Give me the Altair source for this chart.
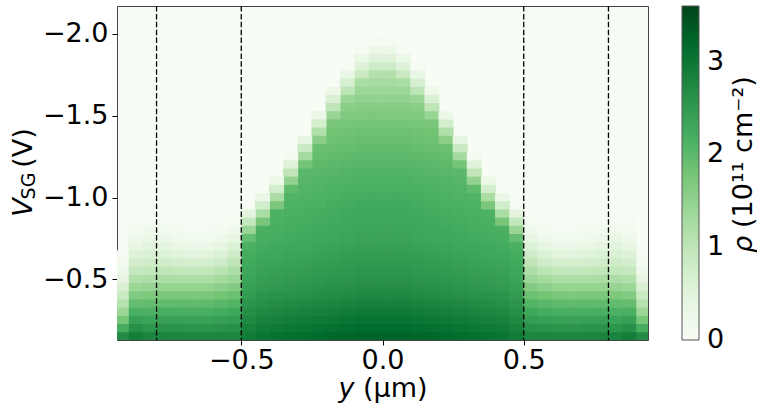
import altair as alt
import pandas as pd

# ---- data (map is mirror-symmetric in y) ----
# cell centres in y (um) for the y >= 0 half; the y < 0 half mirrors them
y_centers = [0.025, 0.075, 0.125, 0.175, 0.225, 0.275, 0.325, 0.375, 0.425, 0.475,
             0.525, 0.575, 0.625, 0.675, 0.725, 0.775, 0.825, 0.875, 0.925]
# cell centres in V_SG (V), top to bottom
v_centers = [-1.95, -1.90, -1.85, -1.80, -1.75, -1.70, -1.65, -1.60, -1.55, -1.50,
             -1.45, -1.40, -1.35, -1.30, -1.25, -1.20, -1.15, -1.10, -1.05, -1.00,
             -0.95, -0.90, -0.85, -0.80, -0.75, -0.70, -0.65, -0.60, -0.55, -0.50,
             -0.45, -0.40, -0.35, -0.30, -0.25, -0.20, -0.15]

# density rho (1e11 cm^-2) per y column, listed along v_centers
rho_y025 = [0.04, 0.27, 0.53, 0.80, 1.14, 1.30, 1.40, 1.50, 1.60, 1.70, 1.78, 1.85, 1.90,
            1.95, 2.00, 2.05, 2.10, 2.15, 2.18, 2.22, 2.25, 2.28, 2.30, 2.33, 2.36, 2.40,
            2.45, 2.50, 2.55, 2.60, 2.67, 2.75, 2.85, 2.95, 3.05, 3.15, 3.25]
rho_y075 = [0, 0.05, 0.29, 0.55, 0.87, 1.24, 1.40, 1.50, 1.60, 1.70, 1.78, 1.85, 1.90,
            1.95, 2.00, 2.05, 2.10, 2.15, 2.18, 2.22, 2.25, 2.28, 2.30, 2.33, 2.36, 2.40,
            2.45, 2.50, 2.55, 2.60, 2.67, 2.75, 2.85, 2.95, 3.05, 3.15, 3.25]
rho_y125 = [0, 0, 0, 0.05, 0.32, 0.65, 1.01, 1.41, 1.58, 1.68, 1.76, 1.83, 1.88, 1.93,
            1.98, 2.03, 2.08, 2.13, 2.16, 2.20, 2.23, 2.26, 2.28, 2.31, 2.34, 2.38, 2.43,
            2.48, 2.52, 2.57, 2.64, 2.72, 2.82, 2.92, 3.02, 3.12, 3.22]
rho_y175 = [0, 0, 0, 0, 0, 0, 0.25, 0.60, 1.00, 1.43, 1.74, 1.81, 1.86, 1.91, 1.96, 2.01,
            2.06, 2.11, 2.14, 2.18, 2.21, 2.23, 2.25, 2.28, 2.31, 2.35, 2.40, 2.45, 2.50,
            2.55, 2.62, 2.70, 2.79, 2.89, 2.99, 3.09, 3.19]
rho_y225 = [0, 0, 0, 0, 0, 0, 0, 0, 0, 0.30, 0.71, 1.15, 1.58, 1.89, 1.94, 1.99, 2.04,
            2.09, 2.11, 2.15, 2.18, 2.21, 2.23, 2.26, 2.29, 2.33, 2.38, 2.43, 2.47, 2.52,
            2.59, 2.67, 2.76, 2.86, 2.96, 3.06, 3.15]
rho_y275 = [0] * 12 + [0.42, 0.85, 1.31, 1.79, 2.02, 2.06, 2.09, 2.13, 2.16, 2.19, 2.21,
                       2.24, 2.27, 2.30, 2.35, 2.40, 2.45, 2.50, 2.56, 2.64, 2.74, 2.83,
                       2.93, 3.02, 3.12]
rho_y325 = [0] * 14 + [0.09, 0.53, 1.00, 1.49, 1.97, 2.11, 2.14, 2.17, 2.19, 2.21, 2.24,
                       2.28, 2.33, 2.38, 2.42, 2.47, 2.54, 2.61, 2.71, 2.80, 2.90, 2.99,
                       3.09]
rho_y375 = [0] * 17 + [0.28, 0.74, 1.23, 1.73, 2.14, 2.16, 2.19, 2.22, 2.26, 2.30, 2.35,
                       2.40, 2.44, 2.51, 2.59, 2.68, 2.77, 2.87, 2.96, 3.06]
rho_y425 = [0] * 19 + [0.29, 0.75, 1.25, 1.75, 2.17, 2.19, 2.23, 2.28, 2.33, 2.37, 2.42,
                       2.48, 2.56, 2.65, 2.74, 2.84, 2.93, 3.02]
rho_y475 = [0] * 21 + [0.47, 0.93, 1.43, 1.93, 2.16, 2.21, 2.25, 2.30, 2.34, 2.40, 2.48,
                       2.57, 2.66, 2.75, 2.84, 2.93]
rho_y525 = [0] * 22 + [0.08, 0.22, 0.40, 0.60, 0.80, 1.00, 1.20, 1.42, 1.65, 1.88, 2.08,
                       2.28, 2.45, 2.62, 2.78]
rho_y575 = [0] * 22 + [0.04, 0.10, 0.22, 0.40, 0.60, 0.82, 1.05, 1.30, 1.55, 1.80, 2.02,
                       2.22, 2.42, 2.60, 2.78]
rho_y625 = [0] * 22 + [0.03, 0.07, 0.16, 0.30, 0.50, 0.72, 0.97, 1.22, 1.48, 1.73, 1.97,
                       2.18, 2.38, 2.58, 2.76]
rho_y675 = [0] * 22 + [0.03, 0.07, 0.15, 0.29, 0.48, 0.70, 0.95, 1.20, 1.46, 1.72, 1.96,
                       2.17, 2.37, 2.57, 2.76]
rho_y725 = [0] * 22 + [0.04, 0.10, 0.20, 0.34, 0.52, 0.73, 0.97, 1.22, 1.48, 1.73, 1.97,
                       2.18, 2.39, 2.59, 2.78]
rho_y775 = [0] * 22 + [0.05, 0.15, 0.28, 0.42, 0.58, 0.77, 0.99, 1.23, 1.48, 1.73, 1.97,
                       2.19, 2.40, 2.60, 2.80]
rho_y825 = [0] * 22 + [0.06, 0.20, 0.35, 0.48, 0.62, 0.78, 0.97, 1.20, 1.45, 1.70, 1.95,
                       2.15, 2.35, 2.55, 2.80]
rho_y875 = [0] * 22 + [0.04, 0.10, 0.22, 0.38, 0.55, 0.72, 0.92, 1.15, 1.40, 1.66, 1.92,
                       2.18, 2.42, 2.65, 2.90]
rho_y925 = [0] * 26 + [0.05, 0.12, 0.25, 0.42, 0.62, 0.85, 1.10, 1.40, 1.75, 2.20, 2.70]

rho_columns = [rho_y025, rho_y075, rho_y125, rho_y175, rho_y225, rho_y275, rho_y325,
               rho_y375, rho_y425, rho_y475, rho_y525, rho_y575, rho_y625, rho_y675,
               rho_y725, rho_y775, rho_y825, rho_y875, rho_y925]

gate_edges = [-0.8, -0.5, 0.5, 0.8]          # dashed lines (um)
x_ticks = [-0.5, 0.0, 0.5]
y_ticks = [-2.0, -1.5, -1.0, -0.5]
# colour-bar labels 0,1,2,3 (the first is nudged off 0 so that it is centred on the end)
cbar_ticks = [0.001, 1, 2, 3]
cbar_stops = [0, 0.45, 0.9, 1.35, 1.8, 2.25, 2.7, 3.15, 3.6]
greens = ["#f7fcf5", "#e5f5e0", "#c7e9c0", "#a1d99b", "#74c476",
          "#41ab5d", "#238b45", "#006d2c", "#00441b"]

# ---- table of cells (cells overlap very slightly so no seams show) ----
half_dy = 0.0265
half_dv = 0.0275
records = []
for yc, col in zip(y_centers, rho_columns):
    for vc, r in zip(v_centers, col):
        if r <= 0:
            continue
        for s in (-1, 1):
            records.append({"y0": s * yc - half_dy, "y1": s * yc + half_dy,
                            "v0": vc - half_dv, "v1": vc + half_dv, "rho": r})
cells = pd.DataFrame(records)

FONT = "DejaVu Sans"
cscale = alt.Scale(type="linear", domain=cbar_stops, range=greens, interpolate="rgb")
xs = alt.Scale(domain=[-0.94, 0.94], nice=False, zero=False)
ys = alt.Scale(domain=[-2.17, -0.13], reverse=True, nice=False, zero=False)

heat = alt.Chart(cells).mark_rect(clip=True).encode(
    x=alt.X("y0:Q", scale=xs,
            axis=alt.Axis(values=x_ticks, format=".1f", title=None, labelPadding=2)),
    x2="y1:Q",
    y=alt.Y("v0:Q", scale=ys,
            axis=alt.Axis(values=y_ticks, format=".1f", title=None, labelPadding=4)),
    y2="v1:Q",
    fill=alt.Fill("rho:Q", scale=cscale,
                  legend=alt.Legend(type="gradient", orient="none", legendX=565,
                                    legendY=0, direction="vertical", title=None,
                                    gradientLength=334, gradientThickness=17,
                                    gradientStrokeColor="#555", gradientStrokeWidth=1,
                                    values=cbar_ticks, format=".0f",
                                    labelFontSize=27, labelFont=FONT,
                                    labelColor="black", labelOffset=8,
                                    labelBaseline="middle", padding=0)),
)

rules = alt.Chart(pd.DataFrame({"gate": gate_edges})).mark_rule(
    color="black", strokeDash=[5.5, 2.4], strokeWidth=1.3
).encode(x=alt.X("gate:Q", scale=xs))


def label(text, x, y, size=27, angle=0, italic=False, align="center"):
    return alt.Chart(pd.DataFrame({"t": [text]})).mark_text(
        font=FONT, fontSize=size, angle=angle, align=align, baseline="alphabetic",
        fontStyle="italic" if italic else "normal", color="black"
    ).encode(text="t:N", x=alt.value(x), y=alt.value(y))


texts = [
    label("y", 229.5, 391, italic=True),
    label("(μm)", 246, 391, align="left"),
    label("V", -85, 201.5, angle=270, italic=True),
    label("SG", -82, 180, size=19, angle=270),
    label("(V)", -85, 142, angle=270),
    label("ρ", 635, 247, angle=270, italic=True, align="left"),
    label("(10¹¹ cm⁻²)", 635, 222, angle=270, align="left"),
]

chart = alt.layer(heat, rules, *texts).properties(
    width=531, height=334,
    padding={"left": 117, "top": 6, "right": 109, "bottom": 66},
    autosize=alt.AutoSizeParams(type="none"),
).configure_view(
    stroke="#444", strokeWidth=1, fill="#f7fcf5"
).configure_axis(
    labelFont=FONT, labelFontSize=27, labelColor="black", tickColor="black",
    tickSize=5, tickWidth=1, domain=False, grid=False
)

chart.save("out.html", embed_options={"renderer": "svg", "actions": False})
